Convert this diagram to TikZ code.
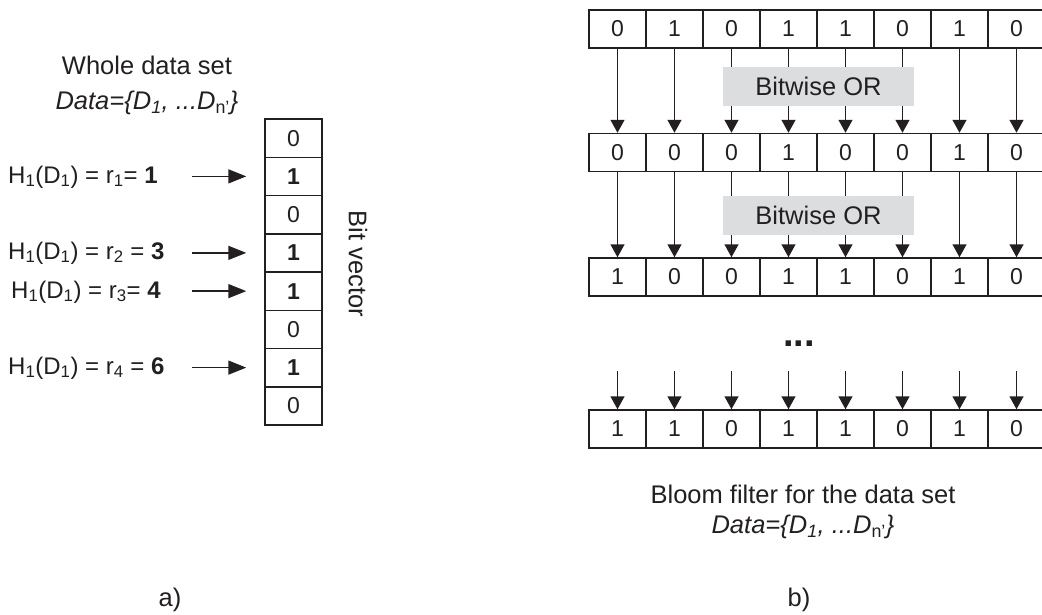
\documentclass[tikz,border=0pt]{standalone}
\usepackage{fontspec}
\setmainfont{Liberation Sans}
\usetikzlibrary{arrows.meta,calc}
\definecolor{ink}{HTML}{231F20}
\definecolor{orgray}{HTML}{DCDDDF}
\begin{document}
\begin{tikzpicture}[x=1pt,y=-1pt,
  every node/.style={text=ink},
  cell/.style={draw=ink,line width=1.5pt,minimum width=57pt,minimum height=38pt,inner sep=0pt,font=\fontsize{23}{26}\selectfont},
  vcell/.style={cell,minimum height=38.25pt},
  varrow/.style={draw=ink,line width=1.5pt,-{Triangle[length=13pt,width=14pt]}},
  harrow/.style={draw=ink,line width=1.5pt,-{Triangle[length=18pt,width=14pt]}},
  orbox/.style={fill=orgray,minimum width=191pt,minimum height=39pt,inner sep=0pt,font=\fontsize{25.5}{29}\selectfont},
  txt/.style={font=\fontsize{25.5}{29}\selectfont,inner sep=0pt},
  hlabel/.style={font=\fontsize{24}{28}\selectfont,inner sep=0pt,anchor=west},
]
\useasboundingbox (0,0) rectangle (1042,614);
\clip (0,0) rectangle (1042,614);
\fill[white] (0,0) rectangle (1042,614);

% ---- left part a) ----
\node[txt] (whole) at (147,65) {Whole data set};
\node[txt] (dataL) at (147,103) {\textit{Data=\{D\textsubscript{1}, ...D}\textsubscript{n'}\textit{\}}};

\foreach \v [count=\i] in {0,\textbf{1},0,\textbf{1},\textbf{1},0,\textbf{1},0}{
  \node[vcell] (l\i) at (293.5,{119+38.25*(\i-0.5)}) {\v};
}
\node[txt,rotate=-90] (bitvec) at (358,264) {Bit vector};

\node[hlabel] (h1) at (8,177) {H\textsubscript{1}(D\textsubscript{1}) = r\textsubscript{1}= \textbf{1}};
\node[hlabel] (h2) at (8,253) {H\textsubscript{1}(D\textsubscript{1}) = r\textsubscript{2} = \textbf{3}};
\node[hlabel] (h3) at (11,292) {H\textsubscript{1}(D\textsubscript{1}) = r\textsubscript{3}= \textbf{4}};
\node[hlabel] (h4) at (8,368) {H\textsubscript{1}(D\textsubscript{1}) = r\textsubscript{4} = \textbf{6}};

\foreach \r in {2,4,5,7}{
  \coordinate (hs\r) at ($(l\r.west)+(-72,0)$);
  \draw[harrow,shorten >=18pt] (hs\r) -- (l\r.west);
}

\node[txt] (a) at (170,600) {a)};

% ---- right part b) ----
\foreach \row/\yc/\vals in {1/29/{0,1,0,1,1,0,1,0},2/152.5/{0,0,0,1,0,0,1,0},3/277/{1,0,0,1,1,0,1,0},4/429/{1,1,0,1,1,0,1,0}}{
  \foreach \v [count=\c] in \vals {
    \node[cell] (r\row c\c) at ({589+28.5+57*(\c-1)},\yc) {\v};
  }
}
\foreach \c in {1,...,8}{
  \draw[varrow] (r1c\c.south) -- (r2c\c.north);
  \draw[varrow] (r2c\c.south) -- (r3c\c.north);
  \coordinate (s\c) at ($(r4c\c.north)+(0,-38)$);
  \draw[varrow] (s\c) -- (r4c\c.north);
}
\node[orbox] (or1) at (818.5,86.5) {Bitwise OR};
\node[orbox] (or2) at (818.5,215) {Bitwise OR};

\node[font=\fontsize{38}{40}\selectfont\bfseries,inner sep=0pt,anchor=base] (dots) at (799,346) {...};

\node[txt] (bloom) at (803,494) {Bloom filter for the data set};
\node[txt] (dataR) at (803,527) {\textit{Data=\{D\textsubscript{1}, ...D}\textsubscript{n'}\textit{\}}};
\node[txt] (b) at (799,600) {b)};
\end{tikzpicture}
\end{document}
